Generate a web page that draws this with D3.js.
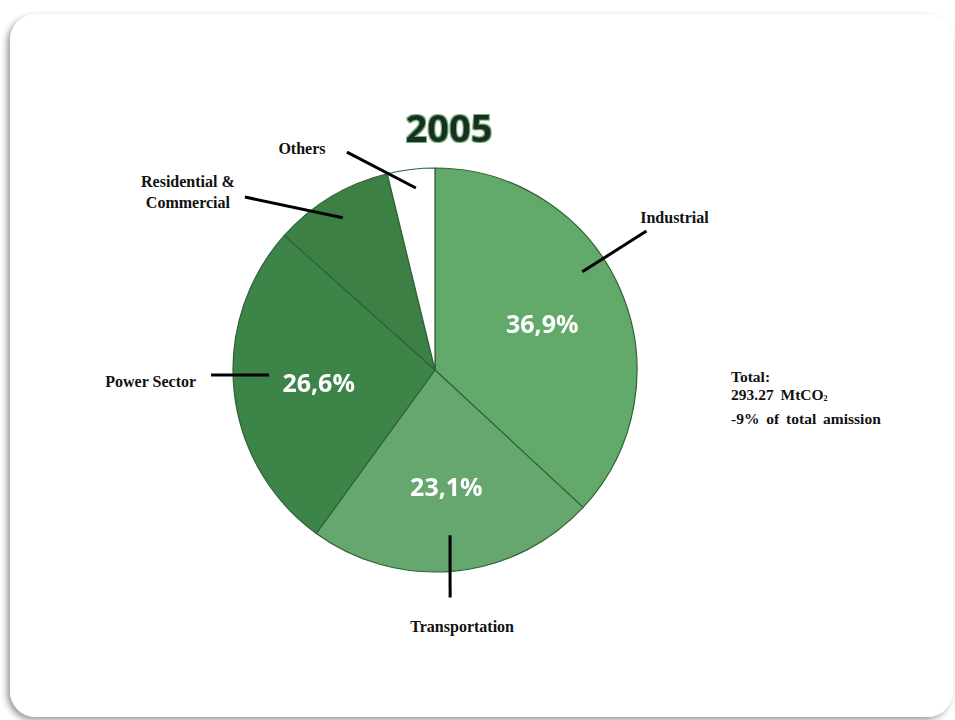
<!DOCTYPE html>
<html>
<head>
<meta charset="utf-8">
<script src="https://cdn.jsdelivr.net/npm/d3@7"></script>
<style>
  html, body { margin: 0; padding: 0; background: #ffffff; }
  svg { display: block; }
</style>
</head>
<body>
<script>
// Sector shares of CO2 emissions, 2005 (percent)
const sectors = ["Industrial", "Transportation", "Power Sector", "Residential & Commercial", "Others"];
const shares = [36.9, 23.1, 26.6, 9.6, 3.8];
const showShare = [true, true, true, false, false];
const year = "2005";
const totalLines = ["Total:", "293.27 MtCO", "-9% of total amission"];

const W = 955, H = 720;
const cx = 435, cy = 370, R = 202;

// Leader line geometry per sector: [angle°, radius] for inner and outer ends,
// plus label offset from the outer end and text anchor.
const leaders = [
  { inner: [56.3, 177], outer: [56.7, 253], dx: 28, dy: -13, anchor: "middle", lines: ["Industrial"] },
  { inner: [174.8, 166], outer: [176.2, 228], dx: 12, dy: 30, anchor: "middle", lines: ["Transportation"] },
  { inner: [268.3, 166], outer: [268.7, 224], dx: -15, dy: 7, anchor: "end", lines: ["Power Sector"] },
  { inner: [328.8, 178], outer: [312.3, 257], dx: -57, dy: -5, anchor: "middle", lines: ["Residential &", "Commercial"] },
  { inner: [354.0, 183], outer: [338.0, 235], dx: -45, dy: -3, anchor: "middle", lines: ["Others"] }
];

const svg = d3.select("body").append("svg")
  .attr("width", W).attr("height", H);

const defs = svg.append("defs");

// soft card shadow, heavier toward the lower left
const sh = defs.append("filter").attr("id", "cardShadow")
  .attr("x", "-5%").attr("y", "-5%").attr("width", "110%").attr("height", "110%");
sh.append("feDropShadow").attr("dx", -3).attr("dy", 3).attr("stdDeviation", 3)
  .attr("flood-color", "#000").attr("flood-opacity", 0.4);

// fine dotted texture for the lightest slice
const pat = defs.append("pattern").attr("id", "dots")
  .attr("width", 2).attr("height", 2).attr("patternUnits", "userSpaceOnUse");
pat.append("rect").attr("width", 2).attr("height", 2).attr("fill", "#5ca565");
pat.append("rect").attr("width", 1).attr("height", 1).attr("fill", "#68ad70");
pat.append("rect").attr("x", 1).attr("y", 1).attr("width", 1).attr("height", 1).attr("fill", "#68ad70");

// faint halo around the year heading
const glow = defs.append("filter").attr("id", "glow")
  .attr("x", "-20%").attr("y", "-20%").attr("width", "140%").attr("height", "140%");
glow.append("feMorphology").attr("in", "SourceAlpha").attr("operator", "dilate").attr("radius", 0.6).attr("result", "d");
glow.append("feGaussianBlur").attr("in", "d").attr("stdDeviation", 0.6).attr("result", "b");
glow.append("feFlood").attr("flood-color", "#5f9a66").attr("flood-opacity", 0.8).attr("result", "c");
glow.append("feComposite").attr("in", "c").attr("in2", "b").attr("operator", "in").attr("result", "g");
const gm = glow.append("feMerge");
gm.append("feMergeNode").attr("in", "g");
gm.append("feMergeNode").attr("in", "SourceGraphic");

// slight softness on the percentage labels
const soft = defs.append("filter").attr("id", "soft");
soft.append("feGaussianBlur").attr("stdDeviation", 0.4);

// card
svg.append("rect")
  .attr("x", 10).attr("y", 14).attr("width", 943).attr("height", 703)
  .attr("rx", 26).attr("ry", 26)
  .attr("fill", "#ffffff")
  .attr("filter", "url(#cardShadow)");

const color = d3.scaleOrdinal()
  .domain(sectors)
  .range(["url(#dots)", "#66a66f", "#3d8449", "#3c8046", "#ffffff"]);

const pie = d3.pie().sort(null).value(d => d.v)
  .startAngle(0).endAngle(2 * Math.PI);
const data = pie(sectors.map((s, i) => ({ s, v: shares[i], show: showShare[i] })));

const arc = d3.arc().innerRadius(0).outerRadius(R);
const labelArc = d3.arc().innerRadius(117).outerRadius(117);

const g = svg.append("g").attr("transform", `translate(${cx},${cy})`);

g.selectAll("path.slice").data(data).join("path")
  .attr("class", "slice")
  .attr("d", arc)
  .attr("fill", d => color(d.data.s))
  .attr("stroke", "#2f6235")
  .attr("stroke-width", 1.2)
  .attr("stroke-linejoin", "round");

// percentage labels
g.selectAll("text.pct").data(data.filter(d => d.data.show)).join("text")
  .attr("class", "pct")
  .attr("transform", d => `translate(${labelArc.centroid(d)})`)
  .attr("text-anchor", "middle")
  .attr("dominant-baseline", "central")
  .attr("font-family", "'Open Sans', 'DejaVu Sans', sans-serif")
  .attr("font-weight", 700)
  .attr("font-size", 25)
  .attr("fill", "#ffffff")
  .attr("filter", "url(#soft)")
  .text(d => d3.format(".1f")(d.data.v).replace(".", ",") + "%");

// leader lines and sector names
const rad = a => a * Math.PI / 180;
leaders.forEach((L, i) => {
  const p0 = d3.pointRadial(rad(L.inner[0]), L.inner[1]);
  const p1 = d3.pointRadial(rad(L.outer[0]), L.outer[1]);
  g.append("line")
    .attr("x1", p0[0]).attr("y1", p0[1])
    .attr("x2", p1[0]).attr("y2", p1[1])
    .attr("stroke", "#000").attr("stroke-width", 3);
  const t = g.append("text")
    .attr("x", p1[0] + L.dx).attr("y", p1[1] + L.dy)
    .attr("text-anchor", L.anchor)
    .attr("font-family", "'Liberation Serif', 'Times New Roman', serif")
    .attr("font-weight", 700)
    .attr("font-size", 16)
    .attr("fill", "#111");
  const n = L.lines.length;
  L.lines.forEach((ln, k) => {
    t.append("tspan")
      .attr("x", p1[0] + L.dx)
      .attr("dy", k === 0 ? -(n - 1) * 10.5 + 5 : 21)
      .text(ln);
  });
});

// year heading
svg.append("text")
  .attr("x", 449).attr("y", 142)
  .attr("text-anchor", "middle")
  .attr("font-family", "'Open Sans', 'DejaVu Sans', sans-serif")
  .attr("font-weight", 700)
  .attr("font-size", 38)
  .attr("fill", "#14331a")
  .attr("filter", "url(#glow)")
  .text(year);

// total note
const tot = svg.append("text")
  .attr("x", 731).attr("y", 382)
  .attr("font-family", "'Liberation Serif', 'Times New Roman', serif")
  .attr("font-weight", 700)
  .attr("font-size", 15.5)
  .attr("word-spacing", 3)
  .attr("fill", "#111");
tot.append("tspan").attr("x", 731).attr("dy", 0).text(totalLines[0]);
tot.append("tspan").attr("x", 731).attr("dy", 18).text(totalLines[1]);
tot.append("tspan").attr("font-size", 8).attr("dy", 1).text("2");
tot.append("tspan").attr("x", 731).attr("dy", 23).text(totalLines[2]);
</script>
</body>
</html>
